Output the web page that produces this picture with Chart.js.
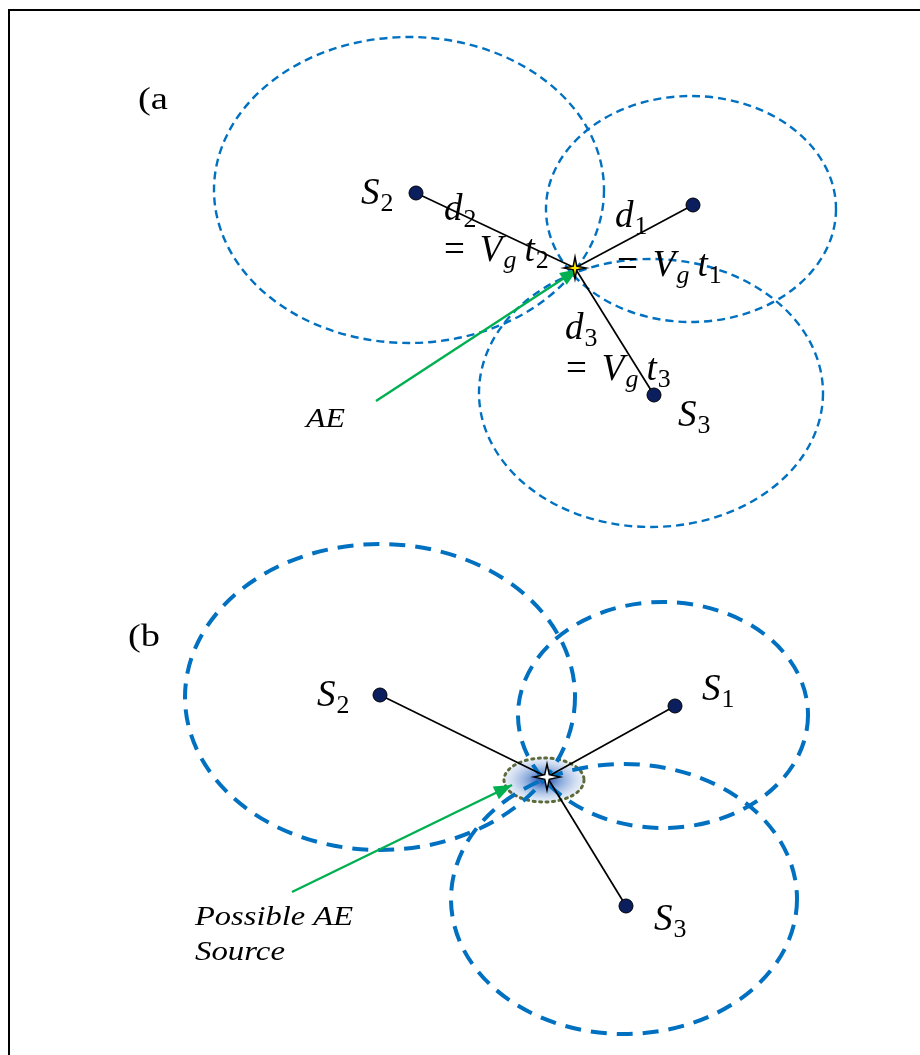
<!DOCTYPE html>
<html>
<head>
<meta charset="utf-8">
<script src="https://cdn.jsdelivr.net/npm/chart.js@4.4.1/dist/chart.umd.min.js"></script>
<style>
  html, body { margin: 0; padding: 0; background: #fff; }
  #wrap { width: 920px; height: 1055px; }
</style>
</head>
<body>
<div id="wrap"><canvas id="diagram" width="920" height="1055"></canvas></div>
<script>
// coordinates are in "drawing units" (0..920 across, 0..1055 down)

// sensors S1, S2, S3
const sensorNames = ['S1', 'S2', 'S3'];
const sensorAx = [693, 416, 654];
const sensorAy = [205, 193, 395];
const sensorBx = [675, 380, 626];
const sensorBy = [706, 695, 906];

// AE source (intersection of the circles)
const sourceA = [575, 268];
const sourceB = [547, 777];

// distance circles around each sensor (centre + radii)
const ringAcx = [691, 409, 651];
const ringAcy = [209, 190, 393];
const ringArx = [145, 195, 172];
const ringAry = [113, 153, 134];
const ringBcx = [663, 380, 624];
const ringBcy = [715, 697, 899];
const ringBrx = [145, 195, 173];
const ringBry = [113, 153, 135];

// possible source zone in (b)
const zoneB = [544, 780, 40, 22];

// green arrows: tail -> head
const arrowA = [[376, 401], [578, 269]];
const arrowB = [[292, 892], [512, 785]];

const pts = (xs, ys) => xs.map((x, i) => ({ x: x, y: ys[i] }));

// one spoke per sensor, from the source to the sensor
function spokes(src, xs, ys) {
    return xs.map((x, i) => ({
        data: [{ x: src[0], y: src[1] }, { x: x, y: ys[i] }],
        showLine: true,
        borderColor: '#000',
        borderWidth: 1.7,
        pointRadius: 0,
        order: 3
    }));
}

function arrowSet(a) {
    return {
        data: a.map(p => ({ x: p[0], y: p[1] })),
        showLine: true,
        borderColor: '#00b050',
        borderWidth: 2.4,
        pointRadius: 0,
        order: 1,
        arrow: true
    };
}

const sensorStyle = {
    pointRadius: 7,
    pointBackgroundColor: '#0b1f5e',
    pointBorderColor: '#000',
    pointBorderWidth: 1,
    showLine: false,
    order: 0
};

// math labels: parts, x, baseline, size
// parts: [text, italic, sub, gapBefore]
const MATH = '"Liberation Serif", "DejaVu Serif", serif';
const labels = [
    [[['S', 1], ['2', 0, 1]], 361, 204, 37],
    [[['d', 1], ['2', 0, 1]], 444, 220, 37],
    [[['=', 0], ['V', 1, 0, 14], ['g', 1, 1], ['t', 1, 0, 8], ['2', 0, 1]], 444, 261, 37],
    [[['d', 1], ['1', 0, 1]], 615, 227, 37],
    [[['=', 0], ['V', 1, 0, 14], ['g', 1, 1], ['t', 1, 0, 8], ['1', 0, 1]], 617, 276, 37],
    [[['d', 1], ['3', 0, 1]], 565, 339, 37],
    [[['=', 0], ['V', 1, 0, 14], ['g', 1, 1], ['t', 1, 0, 8], ['3', 0, 1]], 566, 380, 37],
    [[['S', 1], ['3', 0, 1]], 678, 426, 37],
    [[['S', 1], ['2', 0, 1]], 317, 706, 37],
    [[['S', 1], ['1', 0, 1]], 702, 700, 37],
    [[['S', 1], ['3', 0, 1]], 654, 930, 37]
];
// plain labels: text, x, baseline, size, italic, width
const plainLabels = [
    ['(a', 138, 109, 31, false, 30],
    ['(b', 128, 646, 31, false, 32],
    ['AE', 306, 427, 28, true, 39],
    ['Possible AE', 195, 925, 27, true, 158],
    ['Source', 195, 960, 27, true, 90]
];

function drawRich(ctx, parts, x, y, size) {
    let cx = x;
    parts.forEach(p => {
        const [txt, it, sub, gap] = p;
        const fs = sub ? size * 0.7 : size;
        ctx.font = (it ? 'italic ' : '') + fs + 'px ' + MATH;
        cx += gap || 0;
        ctx.fillText(txt, cx, sub ? y + size * 0.18 : y);
        cx += ctx.measureText(txt).width + (sub ? 0 : 1);
    });
}

function star(ctx, x, y, outer, inner, fill) {
    ctx.beginPath();
    for (let k = 0; k < 8; k++) {
        const r = k % 2 ? inner : outer;
        const a = k * Math.PI / 4 - Math.PI / 2;
        const px = x + r * Math.cos(a), py = y + r * Math.sin(a);
        if (k === 0) ctx.moveTo(px, py); else ctx.lineTo(px, py);
    }
    ctx.closePath();
    ctx.fillStyle = fill;
    ctx.fill();
    ctx.lineWidth = 1.5;
    ctx.strokeStyle = '#000';
    ctx.stroke();
}

const diagramPlugin = {
    id: 'diagram',
    beforeDatasetsDraw(chart) {
        const ctx = chart.ctx, sx = chart.scales.x, sy = chart.scales.y;
        const X = v => sx.getPixelForValue(v), Y = v => sy.getPixelForValue(v);
        ctx.save();
        // frame
        ctx.strokeStyle = '#000';
        ctx.lineWidth = 2;
        ctx.strokeRect(9, 10, 1000, 1100);

        // source zone glow (b)
        const zx = X(zoneB[0]), zy = Y(zoneB[1]);
        const zrx = X(zoneB[0] + zoneB[2]) - zx, zry = Y(zoneB[1] + zoneB[3]) - zy;
        ctx.save();
        ctx.translate(zx, zy);
        ctx.scale(1, zry / zrx);
        const g = ctx.createRadialGradient(0, 0, 0, 0, 0, zrx);
        g.addColorStop(0, 'rgba(20,60,160,1)');
        g.addColorStop(0.4, 'rgba(90,135,205,0.75)');
        g.addColorStop(1, 'rgba(205,218,240,0.4)');
        ctx.beginPath();
        ctx.arc(0, 0, zrx, 0, Math.PI * 2);
        ctx.fillStyle = g;
        ctx.fill();
        ctx.restore();
        ctx.beginPath();
        ctx.ellipse(zx, zy, zrx, zry, 0, 0, Math.PI * 2);
        ctx.setLineDash([2, 4.5]);
        ctx.lineCap = 'round';
        ctx.lineWidth = 3;
        ctx.strokeStyle = '#5d6b3c';
        ctx.stroke();
        ctx.lineCap = 'butt';

        // distance circles
        const rings = (cx, cy, rx, ry, w, dash) => {
            ctx.setLineDash(dash);
            ctx.lineWidth = w;
            ctx.strokeStyle = '#0070c0';
            cx.forEach((c, i) => {
                const px = X(c), py = Y(cy[i]);
                ctx.beginPath();
                ctx.ellipse(px, py, X(c + rx[i]) - px, Y(cy[i] + ry[i]) - py, 0, 0, Math.PI * 2);
                ctx.stroke();
            });
        };
        rings(ringAcx, ringAcy, ringArx, ringAry, 2.4, [8, 5]);
        rings(ringBcx, ringBcy, ringBrx, ringBry, 4, [16, 10]);
        ctx.setLineDash([]);
        ctx.restore();
    },
    afterDatasetsDraw(chart) {
        const ctx = chart.ctx, sx = chart.scales.x, sy = chart.scales.y;
        const X = v => sx.getPixelForValue(v), Y = v => sy.getPixelForValue(v);
        ctx.save();
        // arrow heads
        chart.data.datasets.forEach((ds, i) => {
            if (!ds.arrow) return;
            const m = chart.getDatasetMeta(i).data;
            const a = m[m.length - 2], b = m[m.length - 1];
            const ang = Math.atan2(b.y - a.y, b.x - a.x);
            const L = 18, W = 7;
            ctx.beginPath();
            ctx.moveTo(b.x, b.y);
            ctx.lineTo(b.x - L * Math.cos(ang) + W * Math.sin(ang), b.y - L * Math.sin(ang) - W * Math.cos(ang));
            ctx.lineTo(b.x - L * Math.cos(ang) - W * Math.sin(ang), b.y - L * Math.sin(ang) + W * Math.cos(ang));
            ctx.closePath();
            ctx.fillStyle = ds.borderColor;
            ctx.fill();
        });
        // source stars
        star(ctx, X(sourceA[0]), Y(sourceA[1]), 11, 2.5, '#ffe600');
        star(ctx, X(sourceB[0]), Y(sourceB[1]), 13, 3.2, '#fff');

        // labels
        ctx.fillStyle = '#000';
        ctx.textBaseline = 'alphabetic';
        labels.forEach(l => drawRich(ctx, l[0], l[1], l[2], l[3]));
        plainLabels.forEach(l => {
            const [txt, x, y, size, it, w] = l;
            ctx.font = (it ? 'italic ' : '') + size + 'px ' + MATH;
            const mw = ctx.measureText(txt).width;
            ctx.save();
            ctx.translate(x, y);
            ctx.scale(w / mw, 1);
            ctx.fillText(txt, 0, 0);
            ctx.restore();
        });
        ctx.restore();
    }
};

new Chart(document.getElementById('diagram'), {
    type: 'scatter',
    data: {
        datasets: [
            Object.assign({ data: pts(sensorAx, sensorAy) }, sensorStyle),
            Object.assign({ data: pts(sensorBx, sensorBy) }, sensorStyle),
            arrowSet(arrowA),
            arrowSet(arrowB),
            ...spokes(sourceA, sensorAx, sensorAy),
            ...spokes(sourceB, sensorBx, sensorBy)
        ]
    },
    options: {
        responsive: false,
        animation: false,
        events: [],
        layout: { padding: 0, autoPadding: false },
        scales: {
            x: { type: 'linear', min: 0, max: 920, display: false },
            y: { type: 'linear', min: 0, max: 1055, reverse: true, display: false }
        },
        plugins: { legend: { display: false }, tooltip: { enabled: false } }
    },
    plugins: [diagramPlugin]
});
</script>
</body>
</html>
